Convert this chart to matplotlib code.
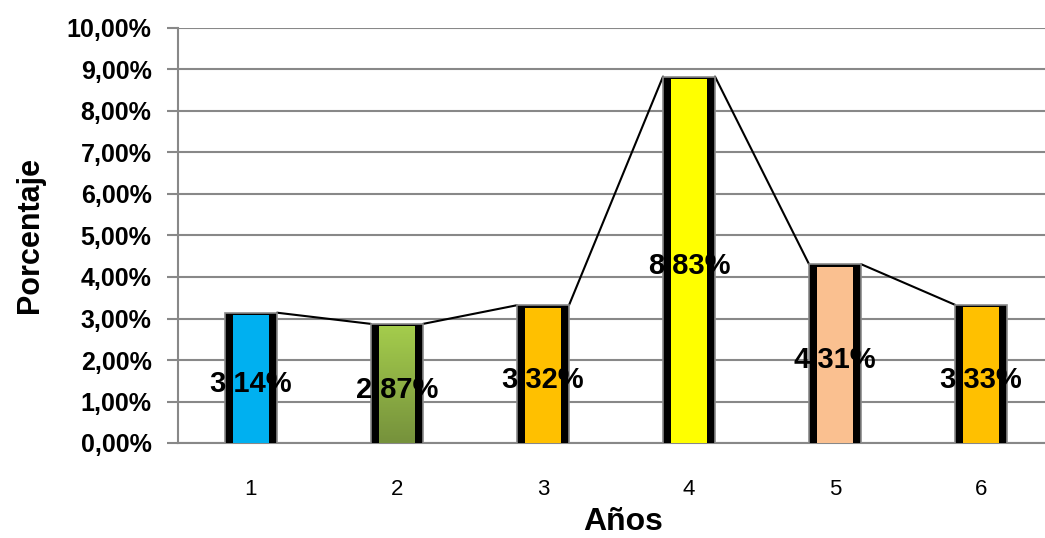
import matplotlib
matplotlib.use("Agg")
import matplotlib.pyplot as plt
import numpy as np
from matplotlib.patches import Rectangle
from matplotlib.colors import LinearSegmentedColormap

categories = ["1", "2", "3", "4", "5", "6"]
values = [3.14, 2.87, 3.32, 8.83, 4.31, 3.33]
labels = ["3,14%", "2,87%", "3,32%", "8,83%", "4,31%", "3,33%"]
colors = ["#00B0F0", "grad", "#FFC000", "#FFFF00", "#FAC090", "#FFC000"]
yticks = [0, 1, 2, 3, 4, 5, 6, 7, 8, 9, 10]
ytick_labels = ["0,00%", "1,00%", "2,00%", "3,00%", "4,00%", "5,00%",
                "6,00%", "7,00%", "8,00%", "9,00%", "10,00%"]

plt.rcParams['font.family'] = ['Liberation Sans', 'DejaVu Sans']

fig = plt.figure(figsize=(10.45, 5.38), dpi=100)
ax = fig.add_axes([178/1045, 95/538, 1 - 178/1045, (443-28)/538])

x = np.arange(1, len(values) + 1)
outer_w = 0.356
inner_w = 0.245

ax.set_axisbelow(True)
ax.yaxis.grid(True, color="#888888", linewidth=1.5)

# connecting series lines
for i in range(len(values) - 1):
    ax.plot([x[i] + outer_w/2, x[i+1] - outer_w/2], [values[i], values[i+1]],
            color="black", linewidth=1.5, zorder=2, solid_capstyle="round")

grad_cmap = LinearSegmentedColormap.from_list("g", ["#76923C", "#A4CC4C"])
for xi, v, c in zip(x, values, colors):
    ax.add_patch(Rectangle((xi - outer_w/2, -0.07), outer_w, v + 0.07,
                           facecolor="black", edgecolor="#8a8a8a", linewidth=1.2, zorder=3))
    top = v - 0.06
    if c == "grad":
        grad = np.linspace(0, 1, 100).reshape(-1, 1)
        ax.imshow(grad, cmap=grad_cmap, origin="lower", aspect="auto",
                  extent=(xi - inner_w/2, xi + inner_w/2, 0, top), zorder=4)
    else:
        ax.add_patch(Rectangle((xi - inner_w/2, 0), inner_w, top,
                               facecolor=c, edgecolor="none", zorder=4))

for xi, v, lab in zip(x, values, labels):
    ax.annotate(lab, (xi, v/2), xytext=(0, -4), textcoords="offset points",
                ha="center", va="center", fontsize=21,
                fontweight="bold", color="black", zorder=6)

ax.set_xlim(0.5, 6.5 - 9/146)
ax.set_ylim(0, 10)
ax.set_yticks(yticks)
ax.set_yticklabels(ytick_labels, fontsize=18, fontweight="bold")
ax.set_xticks(x)
ax.set_xticklabels(categories, fontsize=16)

for s in ["top", "right"]:
    ax.spines[s].set_visible(False)
ax.spines["left"].set_color("#888888")
ax.spines["left"].set_linewidth(1.5)
ax.spines["bottom"].set_color("#888888")
ax.spines["bottom"].set_linewidth(1.5)
ax.tick_params(axis="y", length=8, width=1.5, color="#888888", pad=11)
ax.tick_params(axis="x", length=0, pad=26)

ax.set_ylabel("Porcentaje", fontsize=22, fontweight="bold", labelpad=16)
ax.set_xlabel("Años", fontsize=23, fontweight="bold")
ax.xaxis.set_label_coords(0.513, -0.19)
ax.xaxis.label.set_va("center")

fig.savefig("out.png", dpi=100)
